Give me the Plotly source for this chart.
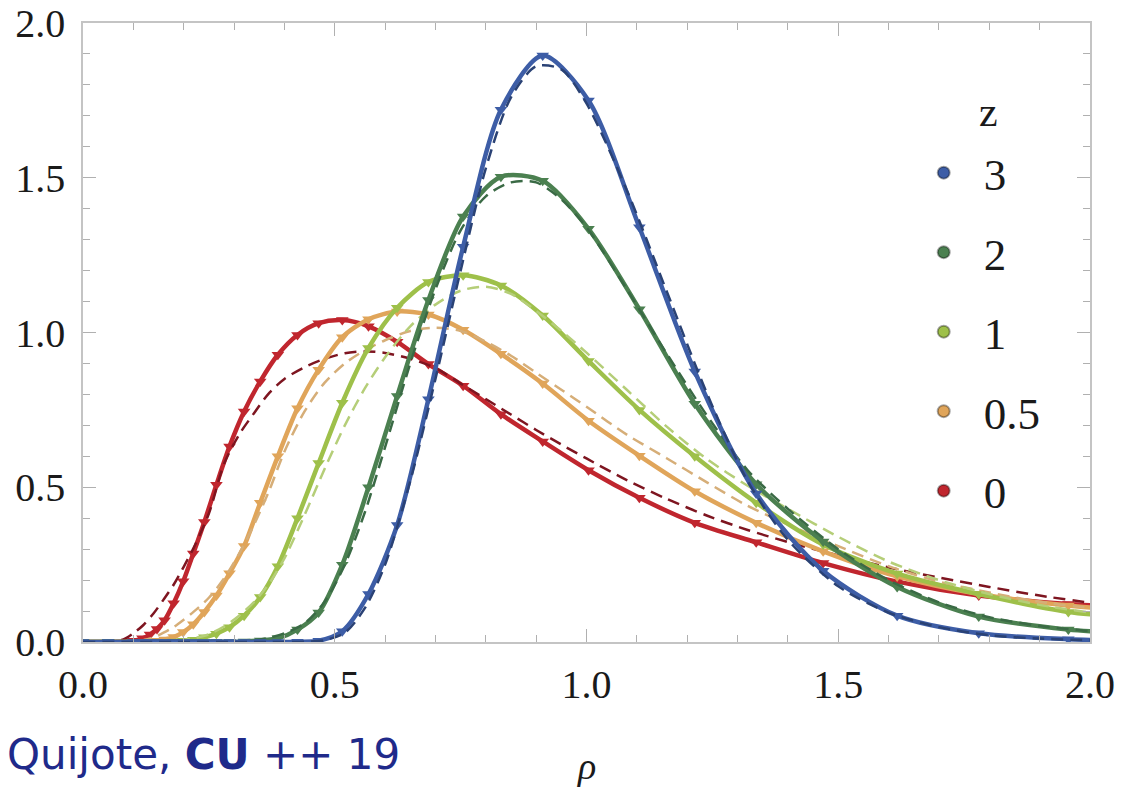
import plotly.graph_objects as go

# Measured PDF points (rho bins) for each redshift
RHO = [0.0, 0.05, 0.10, 0.118, 0.133, 0.147, 0.162, 0.180, 0.199, 0.219, 0.241,
       0.265, 0.291, 0.320, 0.352, 0.387, 0.426, 0.468, 0.515, 0.567, 0.624,
       0.686, 0.755, 0.830, 0.913, 1.004, 1.105, 1.215, 1.337, 1.470, 1.617,
       1.779, 1.957, 2.05]

P_Z0 = [0, 0, 0.004, 0.012, 0.024, 0.042, 0.070, 0.125, 0.196, 0.286, 0.388,
        0.508, 0.632, 0.745, 0.842, 0.928, 0.992, 1.030, 1.040, 1.020, 0.970,
        0.898, 0.828, 0.736, 0.648, 0.555, 0.466, 0.385, 0.322, 0.255, 0.195,
        0.150, 0.123, 0.115]
P_Z05 = [0, 0, 0, 0.001, 0.002, 0.004, 0.008, 0.016, 0.032, 0.057, 0.097,
         0.150, 0.222, 0.310, 0.450, 0.600, 0.755, 0.880, 0.985, 1.043, 1.068,
         1.058, 1.009, 0.931, 0.835, 0.715, 0.602, 0.487, 0.385, 0.293, 0.212,
         0.155, 0.118, 0.105]
P_Z1 = [0, 0, 0, 0, 0, 0, 0.001, 0.002, 0.004, 0.007, 0.015,
        0.027, 0.048, 0.085, 0.145, 0.245, 0.400, 0.578, 0.773, 0.950, 1.080,
        1.163, 1.185, 1.152, 1.055, 0.908, 0.750, 0.600, 0.450, 0.315, 0.221,
        0.155, 0.097, 0.083]
P_Z2 = [0, 0, 0, 0, 0, 0, 0, 0, 0, 0, 0,
        0, 0, 0.002, 0.005, 0.012, 0.040, 0.095, 0.250, 0.500, 0.795,
        1.105, 1.375, 1.503, 1.490, 1.335, 1.075, 0.770, 0.510, 0.325, 0.178,
        0.082, 0.040, 0.030]
P_Z3 = [0, 0, 0, 0, 0, 0, 0, 0, 0, 0, 0,
        0, 0, 0, 0, 0, 0.001, 0.004, 0.035, 0.155, 0.378,
        0.784, 1.277, 1.720, 1.895, 1.750, 1.340, 0.874, 0.480, 0.230, 0.085,
        0.028, 0.009, 0.005]

# Model prediction curves
RHO_M = [0.0, 0.08, 0.10, 0.12, 0.14, 0.16, 0.18, 0.20, 0.22, 0.25, 0.28, 0.31,
         0.34, 0.37, 0.40, 0.44, 0.48, 0.52, 0.56, 0.60, 0.65, 0.70, 0.75, 0.80,
         0.85, 0.90, 0.95, 1.00, 1.08, 1.16, 1.24, 1.32, 1.40, 1.50, 1.60, 1.70,
         1.80, 1.90, 2.00]

M_Z0 = [0, 0.008, 0.028, 0.055, 0.092, 0.137, 0.185, 0.243, 0.305, 0.415, 0.575,
        0.670, 0.740, 0.805, 0.850, 0.888, 0.915, 0.933, 0.939, 0.934, 0.915,
        0.885, 0.835, 0.785, 0.735, 0.685, 0.638, 0.593, 0.523, 0.462, 0.408,
        0.362, 0.323, 0.280, 0.241, 0.208, 0.178, 0.150, 0.127]
M_Z05 = [0, 0, 0.002, 0.006, 0.015, 0.030, 0.048, 0.072, 0.098, 0.143, 0.205,
         0.285, 0.380, 0.490, 0.615, 0.745, 0.838, 0.900, 0.943, 0.975, 1.005,
         1.015, 1.005, 0.970, 0.925, 0.870, 0.815, 0.760, 0.670, 0.593, 0.515,
         0.440, 0.380, 0.310, 0.245, 0.195, 0.160, 0.130, 0.110]
M_Z1 = [0, 0, 0, 0, 0, 0, 0.003, 0.006, 0.012, 0.025, 0.050,
        0.085, 0.130, 0.190, 0.270, 0.410, 0.560, 0.700, 0.820, 0.920, 1.020,
        1.090, 1.135, 1.148, 1.125, 1.070, 1.005, 0.935, 0.815, 0.695, 0.590,
        0.505, 0.430, 0.340, 0.260, 0.200, 0.155, 0.120, 0.095]
M_Z2 = [0, 0, 0, 0, 0, 0, 0, 0, 0, 0, 0,
        0.002, 0.006, 0.014, 0.028, 0.060, 0.130, 0.250, 0.420, 0.630, 0.900,
        1.140, 1.330, 1.440, 1.485, 1.485, 1.430, 1.340, 1.140, 0.930, 0.730,
        0.555, 0.430, 0.300, 0.200, 0.128, 0.080, 0.052, 0.035]
M_Z3 = [0, 0, 0, 0, 0, 0, 0, 0, 0, 0, 0,
        0, 0, 0, 0, 0.001, 0.006, 0.030, 0.110, 0.250, 0.520,
        0.850, 1.200, 1.530, 1.760, 1.860, 1.850, 1.740, 1.460, 1.130, 0.800,
        0.520, 0.330, 0.180, 0.095, 0.048, 0.022, 0.011, 0.006]

REDSHIFTS = ["0", "0.5", "1", "2", "3"]
MEASURED = [P_Z0, P_Z05, P_Z1, P_Z2, P_Z3]
MODEL = [M_Z0, M_Z05, M_Z1, M_Z2, M_Z3]
COLORS = ["#C0262E", "#E0A55A", "#9EC04A", "#4B8050", "#3D5DA6"]
DASH_COLORS = ["#7E1520", "#D6AE78", "#B5CE78", "#3A6A45", "#2A4275"]

SERIF = "Liberation Serif"

fig = go.Figure()

for z, meas, mod, col, dcol in zip(REDSHIFTS, MEASURED, MODEL, COLORS, DASH_COLORS):
    fig.add_trace(go.Scatter(
        x=RHO, y=meas, mode="lines+markers",
        line=dict(color=col, width=4.5, shape="spline", smoothing=0.8),
        marker=dict(symbol="triangle-down", size=11, color=col),
        showlegend=False, hoverinfo="skip",
    ))
    fig.add_trace(go.Scatter(
        x=RHO_M, y=mod, mode="lines",
        line=dict(color=dcol, width=2.5, dash="12px,7px", shape="spline", smoothing=0.8),
        showlegend=False, hoverinfo="skip",
    ))

# Legend entries, highest redshift first
for z, col in reversed(list(zip(REDSHIFTS, COLORS))):
    fig.add_trace(go.Scatter(
        x=[None], y=[None], mode="markers", name=z, legendgroup=z,
        marker=dict(symbol="circle", size=13, color=col,
                    line=dict(color="rgba(0,0,0,0.35)", width=1)),
    ))

axis_common = dict(
    range=[0, 2], showgrid=False, zeroline=False, automargin=False,
    showline=True, linecolor="#C4C4C4", linewidth=1.5, mirror="ticks",
    ticks="inside", ticklen=13, tickwidth=1, tickcolor="#B0B0B0",
    tickvals=[0, 0.5, 1.0, 1.5, 2.0],
    ticktext=["0.0", "0.5", "1.0", "1.5", "2.0"],
    tickfont=dict(family=SERIF, size=40, color="#1a1a1a"),
    ticklabeloverflow="allow",
    minor=dict(dtick=0.1, ticks="inside", ticklen=7, tickwidth=1, tickcolor="#B0B0B0"),
)

fig.update_xaxes(**axis_common, ticklabelstandoff=6)
fig.update_yaxes(**axis_common, ticklabelstandoff=8)

fig.add_annotation(
    text="<i>ρ</i>", xref="paper", yref="paper", x=0.5, y=-0.2,
    showarrow=False, font=dict(family=SERIF, size=38, color="#1a1a1a"),
    xanchor="center", yanchor="middle",
)
fig.add_annotation(
    text="z", xref="paper", yref="paper", x=0.899, y=0.856,
    showarrow=False, font=dict(family=SERIF, size=42, color="#1a1a1a"),
    xanchor="center", yanchor="middle",
)
fig.add_annotation(
    text="Quijote, <b>CU</b> ++ 19", xref="paper", yref="paper",
    x=-0.0775, y=-0.181, showarrow=False, xanchor="left", yanchor="middle",
    font=dict(family="DejaVu Sans", size=42, color="#1F2A8A"),
)

fig.update_layout(
    width=1128, height=789,
    margin=dict(l=83, r=38, t=23, b=147, autoexpand=False),
    paper_bgcolor="white", plot_bgcolor="white",
    legend=dict(
        x=0.815, y=0.816, xanchor="left", yanchor="top",
        bgcolor="rgba(0,0,0,0)", font=dict(family=SERIF, size=45, color="#1a1a1a"),
        tracegroupgap=18, itemsizing="constant", traceorder="grouped",
        itemwidth=70,
    ),
)

fig.write_html("out.html")
